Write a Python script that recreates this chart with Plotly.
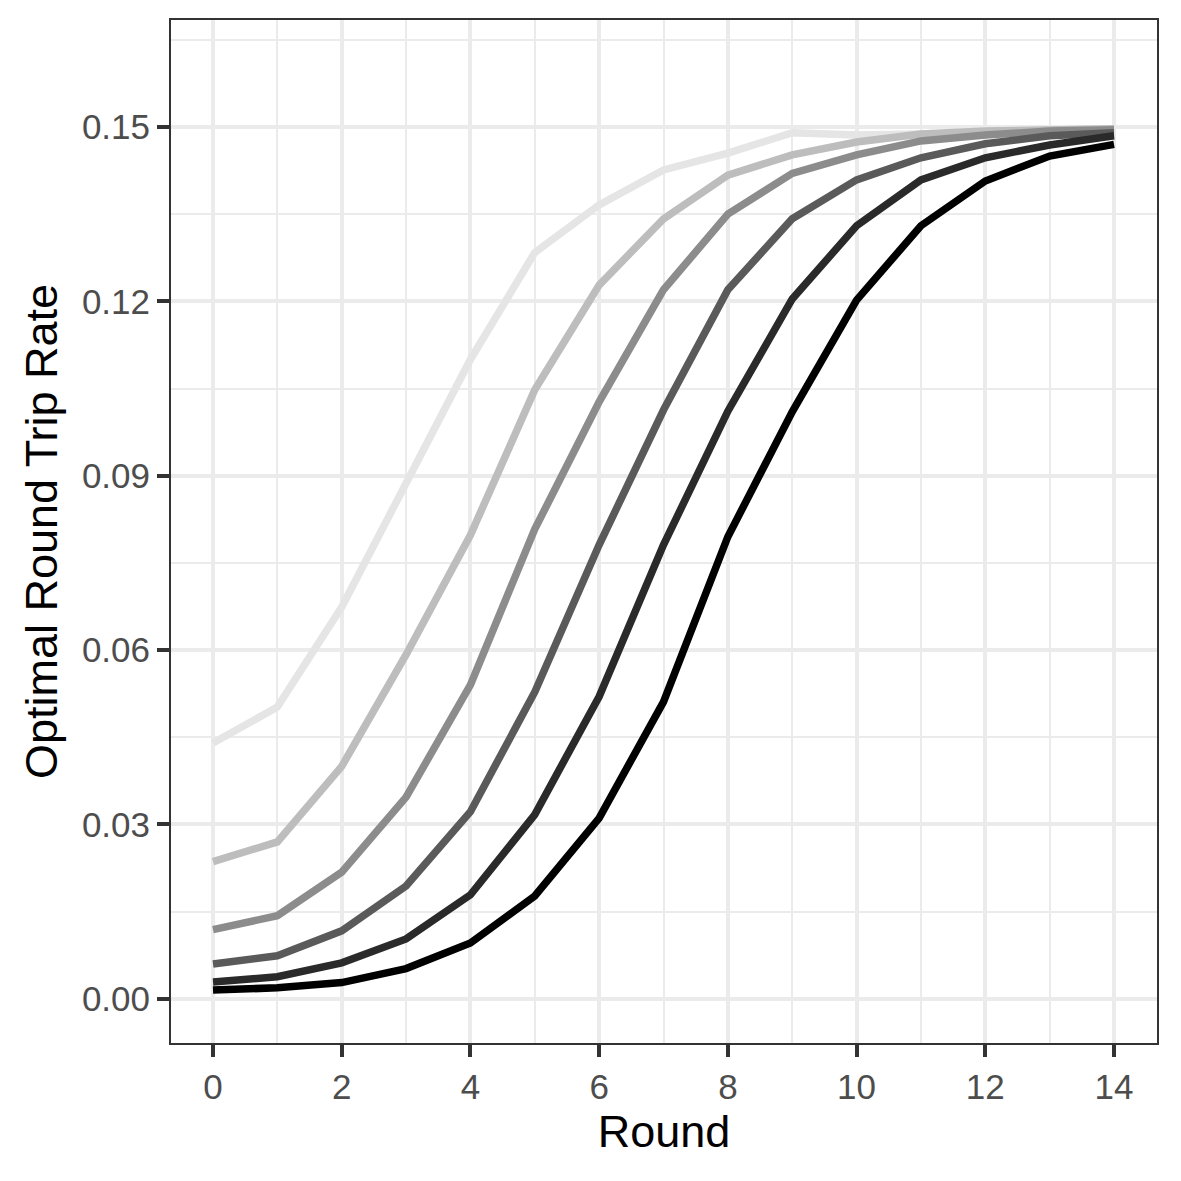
import plotly.graph_objects as go

rounds = list(range(15))

series_1 = [0.0440, 0.0502, 0.0674, 0.0890, 0.1100, 0.1284, 0.1366, 0.1426, 0.1455, 0.1490, 0.1486, 0.1488, 0.1490, 0.1491, 0.1492]
series_2 = [0.0236, 0.0270, 0.0400, 0.0592, 0.0798, 0.1048, 0.1228, 0.1342, 0.1417, 0.1452, 0.1474, 0.1488, 0.1493, 0.1495, 0.1497]
series_3 = [0.0119, 0.0143, 0.0218, 0.0347, 0.0540, 0.0808, 0.1027, 0.1220, 0.1350, 0.1420, 0.1452, 0.1476, 0.1486, 0.1493, 0.1495]
series_4 = [0.0060, 0.0074, 0.0117, 0.0194, 0.0322, 0.0528, 0.0781, 0.1013, 0.1220, 0.1342, 0.1409, 0.1447, 0.1471, 0.1485, 0.1490]
series_5 = [0.0029, 0.0038, 0.0062, 0.0103, 0.0179, 0.0317, 0.0520, 0.0781, 0.1011, 0.1204, 0.1330, 0.1409, 0.1447, 0.1469, 0.1485]
series_6 = [0.0015, 0.0019, 0.0028, 0.0052, 0.0096, 0.0177, 0.0311, 0.0511, 0.0795, 0.1010, 0.1202, 0.1330, 0.1407, 0.1450, 0.1470]

all_series = [series_1, series_2, series_3, series_4, series_5, series_6]
colors = ["#e5e5e5", "#bdbdbd", "#8c8c8c", "#5a5a5a", "#2a2a2a", "#000000"]

FONT = "Liberation Sans, Arial, sans-serif"

fig = go.Figure()
for vals, col in zip(all_series, colors):
    fig.add_trace(go.Scatter(x=rounds, y=vals, mode="lines",
                             line=dict(color=col, width=7.5), showlegend=False))

axis_common = dict(
    showline=True, linecolor="#333333", linewidth=2, mirror=True,
    showgrid=True, gridcolor="#ebebeb", gridwidth=4,
    zeroline=False,
    ticks="outside", ticklen=12, tickwidth=3.5, tickcolor="#333333",
    tickfont=dict(family=FONT, size=35, color="#4d4d4d"),
)

fig.update_layout(
    width=1181, height=1181,
    margin=dict(l=171, r=24, t=20, b=138),
    paper_bgcolor="white", plot_bgcolor="white",
    xaxis=dict(range=[-0.6526, 14.668], tick0=0, dtick=2,
               minor=dict(dtick=1, tick0=1, showgrid=True, gridcolor="#ebebeb", gridwidth=2.2, ticks=""),
               title=dict(text="Round", standoff=8,
                          font=dict(family=FONT, size=45, color="#000000")),
               **axis_common),
    yaxis=dict(range=[-0.0076, 0.1684], tick0=0, dtick=0.03, tickformat=".2f",
               minor=dict(dtick=0.015, tick0=0.015, showgrid=True, gridcolor="#ebebeb", gridwidth=2.2, ticks=""),
               title=dict(text="Optimal Round Trip Rate", standoff=10,
                          font=dict(family=FONT, size=45, color="#000000")),
               **axis_common),
)

fig.write_html("out.html")
